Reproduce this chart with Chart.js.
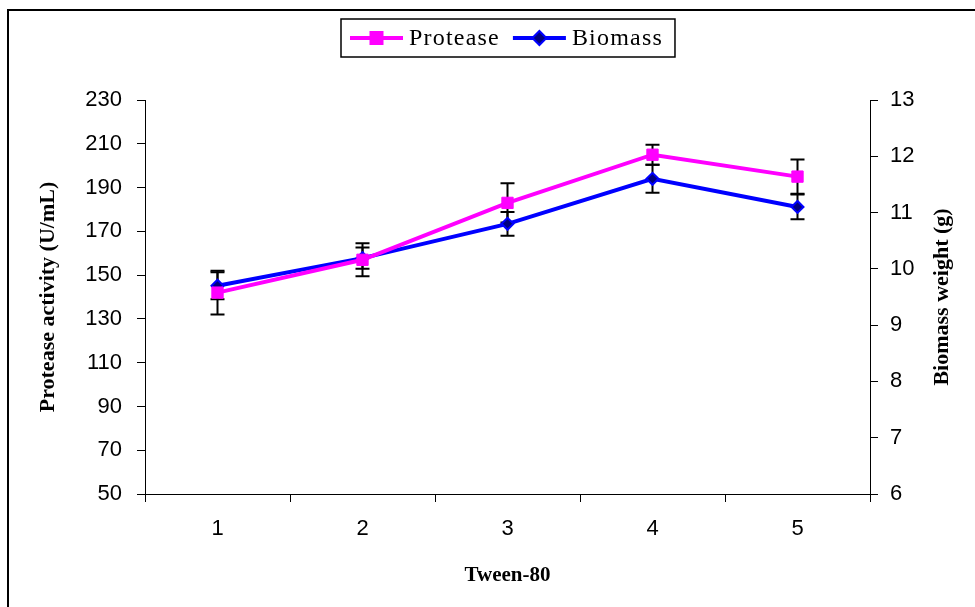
<!DOCTYPE html>
<html>
<head>
<meta charset="utf-8">
<script src="https://cdn.jsdelivr.net/npm/chart.js@4/dist/chart.umd.min.js"></script>
<style>
  html, body { margin: 0; padding: 0; background: #fff; }
  #wrap { width: 975px; height: 607px; }
</style>
</head>
<body>
<div id="wrap"><canvas id="tweenChart" width="975" height="607"></canvas></div>
<script>
const tweenLevels = ['1', '2', '3', '4', '5'];
const proteaseActivity = [142, 157, 183, 205, 195];
const proteaseError = [10, 7.5, 9, 4.6, 7.8];
const biomassWeight = [9.70, 10.19, 10.80, 11.60, 11.10];
const biomassError = [0.24, 0.19, 0.21, 0.25, 0.22];
const rightTitle = 'Biomass weight (g)';

const tickFont = { family: '"Liberation Sans", Arial, sans-serif', size: 22 };
const titleFont = { family: '"Liberation Serif", "Times New Roman", serif', size: 22, weight: 'bold' };

// error bars go under the lines
const errorBars = {
    id: 'errorBars',
    beforeDatasetsDraw(chart) {
        const ctx = chart.ctx;
        ctx.save();
        ctx.strokeStyle = '#000';
        ctx.lineWidth = 2;
        chart.data.datasets.forEach((ds, i) => {
            const meta = chart.getDatasetMeta(i);
            const yScale = chart.scales[ds.yAxisID];
            ds.errors.forEach((err, j) => {
                const x = meta.data[j].x;
                const yHi = yScale.getPixelForValue(ds.data[j] + err);
                const yLo = yScale.getPixelForValue(ds.data[j] - err);
                ctx.beginPath();
                ctx.moveTo(x, yHi); ctx.lineTo(x, yLo);
                ctx.moveTo(x - 7, yHi); ctx.lineTo(x + 7, yHi);
                ctx.moveTo(x - 7, yLo); ctx.lineTo(x + 7, yLo);
                ctx.stroke();
            });
        });
        ctx.restore();
    }
};

// frame lines, right title (reads bottom-up) and boxed legend
const frameAndLegend = {
    id: 'frameAndLegend',
    afterDraw(chart) {
        const ctx = chart.ctx;
        const area = chart.chartArea;
        ctx.save();
        ctx.strokeStyle = '#000';
        ctx.lineWidth = 2;
        ctx.beginPath();
        ctx.moveTo(8, chart.height);
        ctx.lineTo(8, 10);
        ctx.lineTo(chart.width, 10);
        ctx.stroke();

        const rScale = chart.scales.yBiomass;
        ctx.save();
        ctx.translate(rScale.right - 33, (area.top + area.bottom) / 2);
        ctx.rotate(-Math.PI / 2);
        ctx.font = 'bold 22px "Liberation Serif", "Times New Roman", serif';
        ctx.fillStyle = '#000';
        ctx.textAlign = 'center';
        ctx.textBaseline = 'middle';
        ctx.fillText(rightTitle, 0, 0);
        ctx.restore();

        ctx.font = '24px "Liberation Serif", "Times New Roman", serif';
        ctx.letterSpacing = '1.2px';
        ctx.textBaseline = 'middle';
        const lineLen = 53, gap = 6, itemGap = 13, padL = 9, padR = 12;
        const items = chart.data.datasets.map(ds => ({ ds, w: ctx.measureText(ds.label).width }));
        let total = padL + padR;
        items.forEach((it, k) => { total += lineLen + gap + it.w + (k ? itemGap : 0); });
        const cx = (area.left + area.right) / 2;
        const left = Math.round(cx - total / 2);
        const top = 19, h = 38, cy = top + h / 2;
        ctx.lineWidth = 1.5;
        ctx.strokeRect(left, top, total, h);

        let x = left + padL;
        items.forEach((it, k) => {
            if (k) x += itemGap;
            const ds = it.ds;
            ctx.strokeStyle = ds.borderColor;
            ctx.lineWidth = 4;
            ctx.beginPath();
            ctx.moveTo(x, cy); ctx.lineTo(x + lineLen, cy);
            ctx.stroke();
            const mx = x + lineLen / 2;
            ctx.fillStyle = ds.pointBackgroundColor;
            ctx.strokeStyle = ds.pointBorderColor;
            ctx.lineWidth = 2;
            ctx.beginPath();
            if (ds.pointStyle === 'rect') {
                ctx.rect(mx - 6, cy - 6, 12, 12);
            } else {
                ctx.moveTo(mx - 7, cy); ctx.lineTo(mx, cy - 7);
                ctx.lineTo(mx + 7, cy); ctx.lineTo(mx, cy + 7);
                ctx.closePath();
            }
            ctx.fill();
            ctx.stroke();
            x += lineLen + gap;
            ctx.fillStyle = '#000';
            ctx.fillText(ds.label, x, cy + 1);
            x += it.w;
        });
        ctx.restore();
    }
};

const ctx = document.getElementById('tweenChart').getContext('2d');
window.tweenChartInstance = new Chart(ctx, {
    type: 'line',
    data: {
        labels: tweenLevels,
        datasets: [{
            label: 'Protease',
            data: proteaseActivity,
            errors: proteaseError,
            yAxisID: 'yProtease',
            borderColor: '#FF00FF',
            borderWidth: 4,
            pointStyle: 'rect',
            pointRadius: 8,
            pointBackgroundColor: '#FF00FF',
            pointBorderColor: '#FF00FF',
            pointBorderWidth: 1,
            tension: 0
        }, {
            label: 'Biomass',
            data: biomassWeight,
            errors: biomassError,
            yAxisID: 'yBiomass',
            borderColor: '#0000FF',
            borderWidth: 4,
            pointStyle: 'rectRot',
            pointRadius: 6,
            pointBackgroundColor: '#000080',
            pointBorderColor: '#0000FF',
            pointBorderWidth: 2,
            tension: 0
        }]
    },
    options: {
        responsive: false,
        animation: false,
        devicePixelRatio: 1,
        layout: { padding: { top: 100, left: 0, right: 0, bottom: 0 } },
        plugins: {
            legend: { display: false },
            tooltip: { enabled: false }
        },
        scales: {
            x: {
                offset: true,
                grid: { offset: true, drawOnChartArea: false, drawTicks: true, tickLength: 8, color: '#000' },
                border: { display: true, color: '#000', width: 1 },
                ticks: { color: '#000', font: tickFont, padding: 14 },
                title: { display: true, text: 'Tween-80', color: '#000',
                         font: { family: titleFont.family, size: 21, weight: 'bold' },
                         padding: { top: 0, bottom: 19 } },
                afterFit: scale => { scale.height = 113; }
            },
            yProtease: {
                position: 'left',
                min: 50, max: 230,
                ticks: { stepSize: 20, color: '#000', font: tickFont, padding: 15 },
                grid: { drawOnChartArea: false, drawTicks: true, tickLength: 8, color: '#000' },
                border: { display: true, color: '#000', width: 1 },
                title: { display: true, text: 'Protease activity (U/mL)', color: '#000',
                         font: titleFont, padding: { top: 35, bottom: 0 } },
                afterFit: scale => { scale.width = 145; }
            },
            yBiomass: {
                position: 'right',
                min: 6, max: 13,
                ticks: { stepSize: 1, color: '#000', font: tickFont, padding: 12 },
                grid: { drawOnChartArea: false, drawTicks: true, tickLength: 8, color: '#000' },
                border: { display: true, color: '#000', width: 1 },
                afterFit: scale => { scale.width = 105; }
            }
        }
    },
    plugins: [errorBars, frameAndLegend]
});
</script>
</body>
</html>
